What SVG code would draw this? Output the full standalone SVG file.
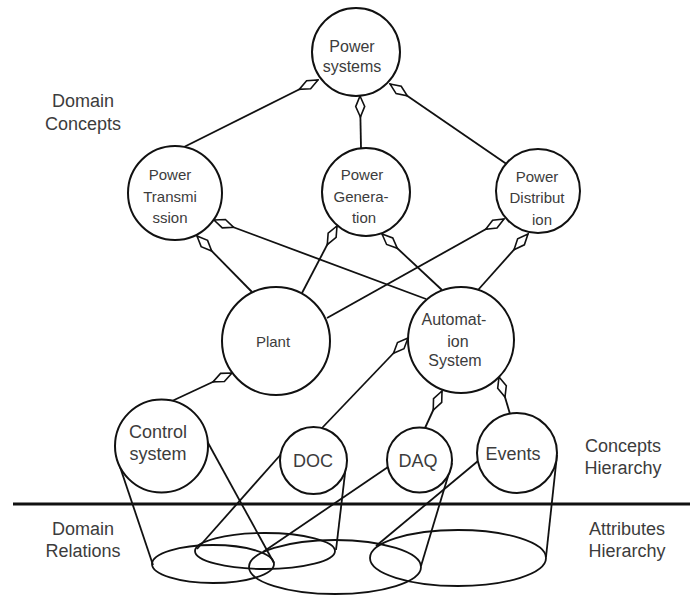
<svg xmlns="http://www.w3.org/2000/svg" width="697" height="596" viewBox="0 0 697 596">
<style>
.n{fill:#fff;stroke:#111;stroke-width:2}
.t{font-family:"Liberation Sans",Arial,sans-serif;fill:#3c3c3c;text-anchor:middle}
.c{stroke:#111;stroke-width:1.8;fill:none}
.e{fill:none;stroke:#111;stroke-width:1.8}
.agg{marker-start:url(#dia)}
</style>
<defs>
<marker id="dia" markerWidth="26" markerHeight="12" refX="1" refY="6" orient="auto" markerUnits="userSpaceOnUse">
<path d="M1,6 L11.5,1.5 L22,6 L11.5,10.5 Z" fill="#fff" stroke="#111" stroke-width="1.6"/>
</marker>
</defs>
<rect width="697" height="596" fill="#fff"/>

<g id="attributes">
<ellipse class="e" cx="213" cy="564" rx="61" ry="19"/>
<ellipse class="e" cx="265" cy="551" rx="70" ry="18"/>
<ellipse class="e" cx="335" cy="567" rx="86" ry="27"/>
<ellipse class="e" cx="458" cy="558" rx="88" ry="28"/>
</g>

<g id="connectors">
<line class="c" x1="116" y1="455" x2="153" y2="565"/>
<line class="c" x1="207" y1="441" x2="274" y2="563"/>
<line class="c" x1="283" y1="452" x2="197" y2="549"/>
<line class="c" x1="346" y1="465" x2="336" y2="550"/>
<line class="c" x1="388" y1="467" x2="263" y2="552"/>
<line class="c" x1="452" y1="463" x2="421" y2="566"/>
<line class="c" x1="478" y1="461" x2="376" y2="546"/>
<line class="c" x1="557" y1="455" x2="546" y2="557"/>
<line x1="13" y1="504" x2="690" y2="504" stroke="#111" stroke-width="3"/>
<line class="c agg" x1="318" y1="80" x2="180" y2="149"/>
<line class="c agg" x1="360" y1="96" x2="361" y2="148"/>
<line class="c agg" x1="390" y1="84" x2="508" y2="165"/>
<line class="c agg" x1="214" y1="220" x2="426" y2="299"/>
<line class="c agg" x1="197" y1="236" x2="252" y2="292"/>
<line class="c agg" x1="337" y1="226" x2="302" y2="293"/>
<line class="c agg" x1="382" y1="234" x2="442" y2="290"/>
<line class="c agg" x1="504" y1="219" x2="327" y2="318"/>
<line class="c agg" x1="528" y1="234" x2="478" y2="290"/>
<line class="c agg" x1="232" y1="373" x2="172" y2="401"/>
<line class="c agg" x1="408" y1="338" x2="322" y2="428"/>
<line class="c agg" x1="442" y1="391" x2="425" y2="428"/>
<line class="c agg" x1="499" y1="377" x2="510" y2="414"/>
</g>

<g id="power-systems">
<circle class="n" cx="356" cy="52" r="44"/>
<text class="t" font-size="16" x="352" y="52">Power</text>
<text class="t" font-size="16" x="352" y="72">systems</text>
</g>
<g id="power-transmission">
<circle class="n" cx="175" cy="193" r="47"/>
<text class="t" font-size="15" x="170" y="180">Power</text>
<text class="t" font-size="15" x="170" y="202">Transmi</text>
<text class="t" font-size="15" x="170" y="223">ssion</text>
</g>
<g id="power-generation">
<circle class="n" cx="366" cy="192" r="44"/>
<text class="t" font-size="15" x="362" y="180">Power</text>
<text class="t" font-size="15" x="361" y="202">Genera-</text>
<text class="t" font-size="15" x="364" y="223">tion</text>
</g>
<g id="power-distribution">
<circle class="n" cx="538" cy="191" r="42"/>
<text class="t" font-size="15" x="537" y="182">Power</text>
<text class="t" font-size="15" x="537" y="203">Distribut</text>
<text class="t" font-size="15" x="542" y="225">ion</text>
</g>
<g id="plant">
<circle class="n" cx="276" cy="341" r="54"/>
<text class="t" font-size="15" x="273" y="347">Plant</text>
</g>
<g id="automation-system">
<circle class="n" cx="461" cy="340" r="53"/>
<text class="t" font-size="16" x="454" y="325">Automat-</text>
<text class="t" font-size="16" x="458" y="347">ion</text>
<text class="t" font-size="16" x="455" y="366">System</text>
</g>
<g id="control-system">
<circle class="n" cx="161.5" cy="446" r="46.5"/>
<text class="t" font-size="18" x="158" y="438">Control</text>
<text class="t" font-size="18" x="158" y="460">system</text>
</g>
<g id="doc">
<circle class="n" cx="313.5" cy="460.5" r="33.5"/>
<text class="t" font-size="18" x="313" y="467">DOC</text>
</g>
<g id="daq">
<circle class="n" cx="419.5" cy="460" r="32.5"/>
<text class="t" font-size="18" x="418" y="467">DAQ</text>
</g>
<g id="events">
<circle class="n" cx="517" cy="453" r="40"/>
<text class="t" font-size="18" x="513" y="460">Events</text>
</g>

<g id="labels">
<text class="t" font-size="18" x="83" y="107">Domain</text>
<text class="t" font-size="18" x="83" y="130">Concepts</text>
<text class="t" font-size="18" x="623" y="452">Concepts</text>
<text class="t" font-size="18" x="623" y="474">Hierarchy</text>
<text class="t" font-size="18" x="83" y="535">Domain</text>
<text class="t" font-size="18" x="83" y="557">Relations</text>
<text class="t" font-size="18" x="627" y="535">Attributes</text>
<text class="t" font-size="18" x="627" y="557">Hierarchy</text>
</g>
</svg>
